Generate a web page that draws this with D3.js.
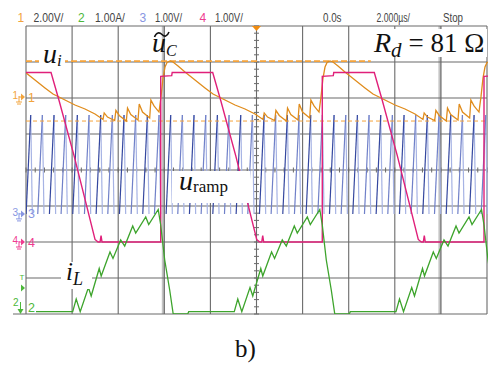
<!DOCTYPE html>
<html><head><meta charset="utf-8">
<script src="https://cdn.jsdelivr.net/npm/d3@7"></script>
<style>
html,body{margin:0;padding:0;background:#fff;}
svg{display:block;}
</style></head>
<body>
<svg id="c" width="488" height="368"></svg>
<script>
// ---------------- DATA ----------------
// Header read-outs of the oscilloscope
const headerChannels = ["1", "2", "3", "4"];
const headerScales   = ["2.00V/", "1.00A/", "1.00V/", "1.00V/"];
const headerTime     = ["0.0s", "2.000µs/", "Stop"];

// channel settings: units per division and screen position (div) of each channel's zero
const chUnitsPerDiv = {1: 2.0, 2: 1.0, 3: 1.0, 4: 1.0};
const chZeroDiv     = {1: 2.0, 2: -4.0, 3: -1.22, 4: -2.0};

// ch1 (u_C~) one switching cycle: [time offset from peak (div), volts]
const ucCycle = [[0,2.06],[0.065,2.0],[0.174,1.78],[0.325,1.44],[0.542,1.0],[0.759,0.56],[0.933,0.22],
  [1.193,-0.11],[1.41,-0.39],[1.627,-0.61],[1.844,-0.89],[2.017,-1.19],
  [2.043,-0.83],[2.115,-1.06],[2.271,-1.25],
  [2.297,-0.69],[2.369,-0.97],[2.523,-1.28],
  [2.549,-0.56],[2.62,-0.92],[2.777,-1.22],
  [2.803,-0.33],[2.874,-0.78],[3.03,-1.11],
  [3.056,-0.11],[3.124,-0.44],[3.232,-0.78],
  [3.275,0.06],[3.319,1.11],[3.362,1.72],[3.406,1.97]];
const ucPeaks = [-0.347, 3.124, 6.594, 10.087];
const uiLevel = 2.05, uiEnd = 7.48;       // u_i reference (ch1 volts, end time div)
const lowRefLevel = -1.28;                // lower dashed reference (ch1 volts)

// ch2 (i_L) one cycle: [time offset from ramp start (div), amps]
const iLCycle = [[0,0.064],[0.076,0.417],[0.163,0.064],[0.341,0.736],[0.401,0.5],[0.575,1.264],[0.618,1.056],
  [0.809,1.722],[0.874,1.542],[1.041,2.056],[1.128,1.889],[1.302,2.444],[1.367,2.25],[1.584,2.694],
  [1.649,2.486],[1.855,2.903],[1.909,2.472],[1.996,1.5],[2.104,0.667],[2.18,0],[2.495,0],[2.516,0.064]];
const iLStarts = [1.013, 4.518, 8.026];
const iLFirst = [0.217, 0.064];

// ch4 one cycle: [time offset from rising edge (div), volts]
const u4Cycle = [[0,0],[0,4.6],[0.239,4.62],[0.249,4.71],[1.128,4.71],[1.302,3.93],[1.627,2.4],
  [1.909,0.96],[2.082,0.07],[2.148,0],[2.191,0],[2.213,0.18],[2.234,0]];
const u4Rises = [-0.585, 2.922, 6.427, 9.935];

// ch3 ramp: peak times (div) and levels (V)
const rampPeaks = [0.102,0.355,0.608,0.861,1.114,1.368,1.621,1.874,2.127,2.380,2.633,2.886,3.139,3.392,
  3.645,3.899,4.152,4.405,4.658,4.911,5.164,5.417,5.670,5.923,6.176,6.430,6.683,6.936,7.189,7.442,
  7.695,7.948,8.201,8.454,8.707,8.961,9.214,9.467,9.720,9.973];
const rampTop = 2.75, rampBottom = 0.0, rampRise = 0.1, rampFall = 0.035;

// ---------------- DRAW ----------------
const svg = d3.select("#c");
const L = 26, R = 487, T = 26, B = 314;
const x = d3.scaleLinear().domain([0, 10]).range([L, R]);
const yd = d3.scaleLinear().domain([-4, 4]).range([B, T]);
const yc = (ch, v) => yd(chZeroDiv[ch] + v / chUnitsPerDiv[ch]);

const C = {orange:"#e08c1c", orangeDash:"#f5a33a", pink:"#e0207a", green:"#3da42c",
  blueDark:"#34479f", blueMid:"#7080c8", blueLight:"#a6b3e4", grid:"#6a6a6a"};

svg.append("defs").append("clipPath").attr("id","plot")
  .append("rect").attr("x",L).attr("y",T-1).attr("width",R-L+1).attr("height",B-T+1);

// header
const hdr = svg.append("g").attr("font-family","Liberation Sans, Arial, sans-serif").attr("font-size",12);
const chColors = ["#f2a43c","#4cb83a","#8795e2","#ef3b90"];
const chX = [17.5, 78, 139.5, 199.5], scX = [33.5, 95, 155, 215], scW = [30, 30, 27, 28];
headerChannels.forEach((c,i)=>{
  hdr.append("text").attr("x",chX[i]).attr("y",21.5).attr("fill",chColors[i]).text(c);
  hdr.append("text").attr("x",scX[i]).attr("y",21.5).attr("fill","#444")
    .attr("textLength",scW[i]).attr("lengthAdjust","spacingAndGlyphs").text(headerScales[i]);
});
const tX = [323, 376.5, 443], tW = [18.5, 33.5, 20];
headerTime.forEach((s,i)=>{
  hdr.append("text").attr("x",tX[i]).attr("y",21.5).attr("fill","#444")
    .attr("textLength",tW[i]).attr("lengthAdjust","spacingAndGlyphs").text(s);
});

// grid
const g = svg.append("g");
[3, 9].forEach(d=> g.append("line").attr("x1",x(d)-1).attr("x2",x(d)-1).attr("y1",T).attr("y2",B)
  .attr("stroke","#c4c4c4").attr("stroke-width",3));
d3.range(0, 11).forEach(d=> g.append("line").attr("x1",x(d)).attr("x2",x(d)).attr("y1",T).attr("y2",B)
  .attr("stroke",C.grid).attr("stroke-width",1.1));
d3.range(-4, 5).forEach(d=> g.append("line").attr("x1",d===-4?13:L).attr("x2",R).attr("y1",yd(d)).attr("y2",yd(d))
  .attr("stroke",C.grid).attr("stroke-width",1.1));
d3.range(-4, 4.01, 0.2).forEach(d=> g.append("line").attr("x1",x(5)-2.5).attr("x2",x(5)+2.5)
  .attr("y1",yd(d)).attr("y2",yd(d)).attr("stroke",C.grid).attr("stroke-width",1));
d3.range(0, 10.01, 0.2).forEach(d=> g.append("line").attr("x1",x(d)).attr("x2",x(d))
  .attr("y1",yd(0)-2.5).attr("y2",yd(0)+2.5).attr("stroke",C.grid).attr("stroke-width",1));

// trigger marker
svg.append("path").attr("d",`M${x(5)-4.5},${T} L${x(5)+4.5},${T} L${x(5)},${T+5} Z`).attr("fill","#f08c10");

const plot = svg.append("g").attr("clip-path","url(#plot)");
const line = d3.line().x(d=>x(d[0])).y(d=>d[1]);

// ch3 ramp: rise and fast return
rampPeaks.forEach((p,i)=>{
  plot.append("line").attr("x1",x(p)).attr("y1",yc(3,rampTop)).attr("x2",x(p+rampFall)).attr("y2",yc(3,rampBottom))
    .attr("stroke", C.blueLight).attr("stroke-width",1.2);
  plot.append("line").attr("x1",x(p-rampRise)).attr("y1",yc(3,rampBottom)).attr("x2",x(p)).attr("y2",yc(3,rampTop))
    .attr("stroke", i%2===0 ? C.blueDark : C.blueMid).attr("stroke-width",1.2);
});

// dashed references (ch1)
plot.append("line").attr("x1",x(0)).attr("x2",x(10)).attr("y1",yc(1,lowRefLevel)).attr("y2",yc(1,lowRefLevel))
  .attr("stroke",C.orangeDash).attr("stroke-width",1).attr("stroke-dasharray","4,3");
plot.append("line").attr("x1",x(0)).attr("x2",x(uiEnd)).attr("y1",yc(1,uiLevel)).attr("y2",yc(1,uiLevel))
  .attr("stroke",C.orangeDash).attr("stroke-width",1.6).attr("stroke-dasharray","6,3");

// ch1 trace
const ucPts = [];
ucPeaks.forEach(p=> ucCycle.forEach(d=> ucPts.push([p+d[0], yc(1,d[1])])));
plot.append("path").attr("d",line(ucPts)).attr("fill","none").attr("stroke",C.orange).attr("stroke-width",1.3);

// ch4 trace
const u4Pts = [];
u4Rises.forEach(r=> u4Cycle.forEach(d=> u4Pts.push([r+d[0], yc(4,d[1])])));
plot.append("path").attr("d",line(u4Pts)).attr("fill","none").attr("stroke",C.pink).attr("stroke-width",1.4);

// ch2 trace
const iLPts = [[iLFirst[0], yc(2,iLFirst[1])]];
iLStarts.forEach(s=> iLCycle.forEach(d=> iLPts.push([s+d[0], yc(2,d[1])])));
plot.append("path").attr("d",line(iLPts)).attr("fill","none").attr("stroke",C.green).attr("stroke-width",1.3);

// left channel markers
function marker(ch, col, small, big, yy){
  const m = svg.append("g").attr("fill",col).attr("stroke",col);
  m.append("text").attr("x",12.5).attr("y",yy+2).attr("font-size",10).attr("stroke","none")
    .attr("font-family","Liberation Sans, Arial, sans-serif").text(small);
  m.append("line").attr("x1",19).attr("x2",19).attr("y1",yy-1).attr("y2",yy+5).attr("stroke-width",1);
  m.append("line").attr("x1",16).attr("x2",22).attr("y1",yy+5).attr("y2",yy+5).attr("stroke-width",1);
  m.append("line").attr("x1",17).attr("x2",21).attr("y1",yy+7).attr("y2",yy+7).attr("stroke-width",1);
  m.append("line").attr("x1",19).attr("x2",22).attr("y1",yy).attr("y2",yy).attr("stroke-width",1);
  m.append("path").attr("d",`M21,${yy-3.5} L25,${yy} L21,${yy+3.5} Z`).attr("stroke","none");
  m.append("text").attr("x",28).attr("y",yy+4.5).attr("font-size",12.5).attr("stroke","none")
    .attr("font-family","Liberation Sans, Arial, sans-serif").text(big);
}
marker(1, "#f2a43c", "1", "1", yc(1,0)-1);
marker(3, "#8795e2", "3", "3", yc(3,0));
marker(4, "#ef3b90", "4", "4", yc(4,0));
// ch2 + trigger markers
const m2 = svg.append("g").attr("fill","#4cb83a").attr("stroke","#4cb83a").attr("font-family","Liberation Sans, Arial, sans-serif");
m2.append("text").attr("x",13).attr("y",306).attr("font-size",10).attr("stroke","none").text("2");
m2.append("line").attr("x1",20.5).attr("x2",20.5).attr("y1",302).attr("y2",310).attr("stroke-width",1);
m2.append("path").attr("d","M17.5,309 L23.5,309 L20.5,314 Z").attr("stroke","none");
m2.append("text").attr("x",28).attr("y",312).attr("font-size",12.5).attr("stroke","none").text("2");
m2.append("text").attr("x",19.5).attr("y",280).attr("font-size",8).attr("stroke","none").text("T");
m2.append("path").attr("d","M21,284.5 L25,288 L21,291.5 Z").attr("stroke","none");

// math labels
const lab = svg.append("g").attr("font-family","Liberation Serif, 'Times New Roman', serif").attr("fill","#111");
function box(x0,y0,w,h){ lab.append("rect").attr("x",x0).attr("y",y0).attr("width",w).attr("height",h).attr("fill","#fff"); }
function mathLabel(x0, y0, main, sub, mainSize, subSize, subDy, italicSub){
  const t = lab.append("text").attr("x",x0).attr("y",y0);
  t.append("tspan").attr("font-size",mainSize).attr("font-style","italic").text(main);
  t.append("tspan").attr("font-size",subSize).attr("dy",subDy).attr("font-style", italicSub ? "italic" : "normal").text(sub);
  return t;
}
box(39,45,26,25);
mathLabel(43, 63, "u", "i", 28, 17, 3, true);

// tilde accent over u_C
lab.append("path").attr("d","M154.5,37 C156.5,32 159.5,32 162,34.5 C164.5,37 167,37 169,32")
  .attr("fill","none").attr("stroke","#111").attr("stroke-width",1.6);
mathLabel(152, 52, "u", "C", 28, 16, 4, true);

box(368,29,119,28);
const rd = mathLabel(374, 52, "R", "d", 28, 21, 5, true);
rd.append("tspan").attr("font-size",27).attr("dy",-5).attr("dx",7).text("= 81 Ω");

box(172,171,78,32);
mathLabel(179, 190, "u", "ramp", 28, 17, 2, false);

box(61,262,31,27);
mathLabel(66, 280, "i", "L", 25, 18, 5, true);

lab.append("text").attr("x",235).attr("y",357).attr("font-size",25).text("b)");
</script>
</body></html>
